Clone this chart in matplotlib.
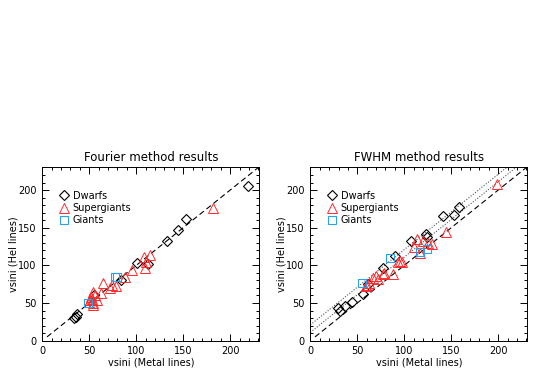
import numpy as np
import matplotlib
matplotlib.use('Agg')
import matplotlib.pyplot as plt
from matplotlib.ticker import MultipleLocator

# ---- Fourier method (left panel) ----
four_dw_x = [219, 153, 144, 133, 101, 112, 84, 55, 37, 36, 34]
four_dw_y = [205, 162, 147, 133, 103, 102, 81, 60, 35, 32, 30]
four_sg_x = [182, 108, 115, 109, 110, 96, 88, 78, 74, 72, 65, 62, 56, 54, 53, 51, 54, 58, 54, 50, 52]
four_sg_y = [176, 111, 114, 97, 105, 94, 84, 72, 74, 70, 77, 63, 61, 65, 56, 54, 50, 54, 47, 52, 58]
four_gi_x = [49, 77, 80]
four_gi_y = [50, 84, 84]

# ---- FWHM method (right panel) ----
fwhm_dw_x = [158, 153, 141, 123, 124, 107, 90, 77, 61, 56, 44, 37, 32, 29]
fwhm_dw_y = [178, 167, 165, 141, 137, 133, 112, 97, 75, 62, 52, 46, 40, 43]
fwhm_sg_x = [199, 144, 114, 120, 125, 129, 110, 117, 95, 98, 93, 88, 78, 77, 70, 72, 67, 62, 60, 59]
fwhm_sg_y = [208, 144, 135, 132, 130, 128, 124, 117, 106, 105, 105, 89, 90, 89, 86, 82, 83, 76, 74, 73]
fwhm_gi_x = [55, 85, 117, 124]
fwhm_gi_y = [77, 110, 118, 122]

# reference lines (one-to-one and offsets in FWHM panel)
line_x = [5, 230]
offsets = [11, 21]

red = '#ff2a2a'
blue = '#2aa0e8'

plt.rcParams['font.family'] = 'DejaVu Sans'
fig = plt.figure(figsize=(5.38, 3.71), dpi=100)
ax1 = fig.add_axes([0.0786, 0.0817, 0.4034, 0.469])
ax2 = fig.add_axes([0.5768, 0.0817, 0.4034, 0.469])

panels = [
    (ax1, 'Fourier method results', four_dw_x, four_dw_y, four_sg_x, four_sg_y, four_gi_x, four_gi_y),
    (ax2, 'FWHM method results', fwhm_dw_x, fwhm_dw_y, fwhm_sg_x, fwhm_sg_y, fwhm_gi_x, fwhm_gi_y),
]

for ax, title, dx, dy, sx, sy, gx, gy in panels:
    ax.plot(line_x, line_x, ls=(0, (5, 3)), color='k', lw=0.8)
    if ax is ax2:
        for off in offsets:
            xx = np.array([0, 230])
            ax.plot(xx, xx + off, ls=(0, (1, 1.5)), color='#555555', lw=0.8)
    ax.plot(dx, dy, 'D', ms=5, mfc='none', mec='k', mew=0.8, label='Dwarfs', ls='none')
    ax.plot(sx, sy, '^', ms=7, mfc='none', mec=red, mew=0.7, label='Supergiants', ls='none')
    ax.plot(gx, gy, 's', ms=6, mfc='none', mec=blue, mew=0.8, label='Giants', ls='none')

    ax.set_xlim(0, 231)
    ax.set_ylim(0, 231)
    ax.xaxis.set_major_locator(MultipleLocator(50))
    ax.xaxis.set_minor_locator(MultipleLocator(10))
    ax.yaxis.set_major_locator(MultipleLocator(50))
    ax.yaxis.set_minor_locator(MultipleLocator(10))
    ax.tick_params(which='both', direction='in', top=True, right=True, width=0.7)
    ax.tick_params(which='major', length=5, labelsize=7, pad=4)
    ax.tick_params(which='minor', length=2.5)
    for sp in ax.spines.values():
        sp.set_linewidth(0.7)
    ax.set_title(title, fontsize=8.5, pad=4)
    ax.set_xlabel('vsini (Metal lines)', fontsize=7, labelpad=1)
    ax.set_ylabel('vsini (HeI lines)', fontsize=7, labelpad=0)
    ax.legend(loc='upper left', frameon=False, fontsize=7, handlelength=1.0,
              handletextpad=0.4, labelspacing=0.25, borderaxespad=0.0,
              bbox_to_anchor=(0.06, 0.885), numpoints=1)

fig.savefig('out.png', dpi=100)
